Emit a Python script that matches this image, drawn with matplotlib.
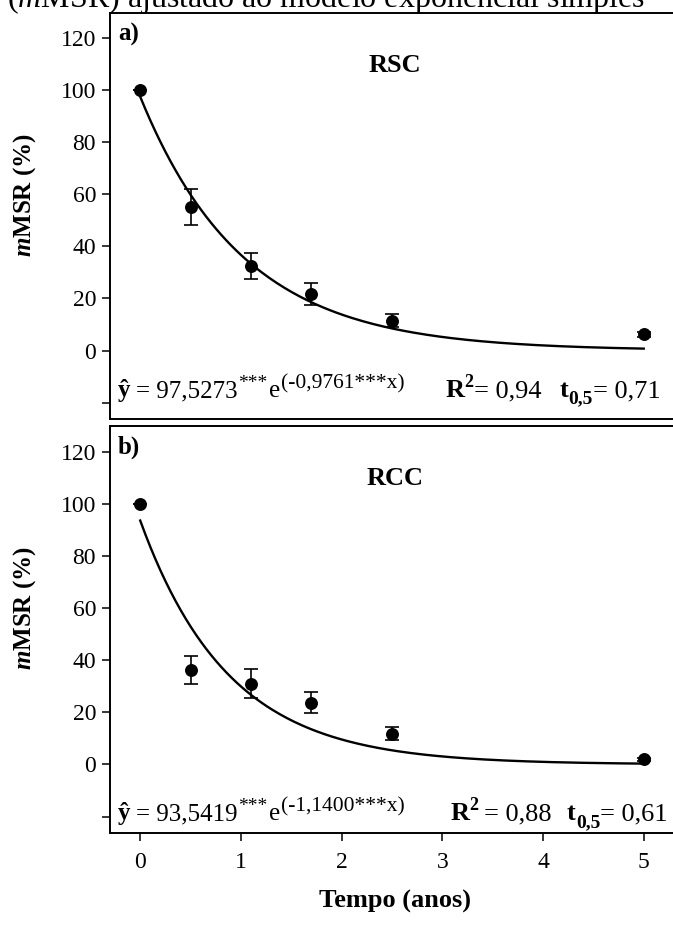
import numpy as np
import matplotlib
matplotlib.use("Agg")
import matplotlib.pyplot as plt

# fonts: Times-like serif everywhere, also inside mathtext
plt.rcParams["font.family"] = ["Liberation Serif", "DejaVu Serif"]
plt.rcParams["mathtext.fontset"] = "custom"
plt.rcParams["mathtext.rm"] = "Liberation Serif"
plt.rcParams["mathtext.it"] = "Liberation Serif:italic"
plt.rcParams["mathtext.bf"] = "Liberation Serif:bold"
plt.rcParams["mathtext.bfit"] = "Liberation Serif:bold:italic"

# data
tempo = [0, 0.5, 1.1, 1.7, 2.5, 5]
rsc_mean = [100, 55.1, 32.4, 21.8, 11.5, 6.2]
rsc_err = [0.0, 6.8, 5.0, 4.3, 2.5, 1.0]
rcc_mean = [100, 36.2, 31.0, 23.7, 11.8, 2.0]
rcc_err = [0.0, 5.5, 5.6, 4.0, 2.4, 0.5]

# fitted model y = a * exp(b * x), as printed on the chart
rsc_a, rsc_b = 97.5273, -0.9761
rcc_a, rcc_b = 93.5419, -1.1400

yticks = [0, 20, 40, 60, 80, 100, 120]
xticks = [0, 1, 2, 3, 4, 5]

F = 18  # main size of the equation line


def chain_text(ax, x, y, pieces):
    """
    write pieces one after another on a common baseline
    piece = (text, size, weight, rise_pt, gap_pt)
    """
    txt, size, weight, rise, gap = pieces[0]
    prev = ax.text(x, y, txt, fontsize=size, fontweight=weight,
                   transform=ax.get_yaxis_transform(),
                   ha="left", va="baseline")
    for txt, size, weight, rise, gap in pieces[1:]:
        prev = ax.annotate(txt, xy=(1, y), xycoords=(prev, ax.transData),
                           xytext=(gap, rise), textcoords="offset points",
                           fontsize=size, fontweight=weight,
                           ha="left", va="baseline", annotation_clip=False)
    return prev


def draw_panel(ax, mean, err, a, b, letter, name, eq, stats, eq_y, stats_x):
    xs = np.linspace(0, 5, 200)
    ax.plot(xs, a * np.exp(b * xs), color="black", linewidth=1.7, zorder=2)
    ax.errorbar(tempo, mean, yerr=err, fmt="o", color="black",
                markersize=8.3, elinewidth=1.2, capsize=5, capthick=1.2, zorder=3)

    ax.set_xlim(-0.3, 5.36)
    ax.set_ylim(-26.3, 129.8)
    ax.set_yticks(yticks + [-20])
    ax.set_yticklabels([str(t) for t in yticks] + [""])
    ax.tick_params(axis="y", direction="out", length=6, width=1.1,
                   labelsize=17, pad=4)
    for s in ax.spines.values():
        s.set_linewidth(1.4)

    ax.text(-0.22, 121.5, letter, fontsize=18, fontweight="bold",
            ha="left", va="center")
    ax.text(2.53, 109.5, name, fontsize=19, fontweight="bold",
            ha="center", va="center")
    chain_text(ax, 0.014, eq_y, eq)
    chain_text(ax, stats_x, eq_y, stats)


fig = plt.figure(figsize=(6.73, 9.27), dpi=100)
ax1 = fig.add_axes([110 / 673, 1 - 419 / 927, 570 / 673, 406.3 / 927])
ax2 = fig.add_axes([110 / 673, 1 - 833 / 927, 570 / 673, 407 / 927])

eq_top = [("ŷ", F, "bold", 0, 0), ("= 97,5273", F, "normal", 0, 4),
          ("***", 14, "normal", 7, 0.5), ("e", F, "normal", 0, 1),
          ("(-0,9761***x)", 15.5, "normal", 6.5, 0.3)]
stats_top = [("R", 19, "bold", 0, 0), ("2", 13, "bold", 7.5, -0.3),
             ("= 0,94", 19, "normal", 0, 0.3), ("t", 19, "bold", 0, 13),
             ("0,5", 14, "bold", -4.5, 0), ("= 0,71", 19, "normal", 0, 0)]
eq_bot = [("ŷ", F, "bold", 0, 0), ("= 93,5419", F, "normal", 0, 4),
          ("***", 14, "normal", 7, 0.5), ("e", F, "normal", 0, 1),
          ("(-1,1400***x)", 15.5, "normal", 6.5, 0.3)]
stats_bot = [("R", 19, "bold", 0, 0), ("2", 13, "bold", 7.5, -0.3),
             ("= 0,88", 19, "normal", 0, 4), ("t", 19, "bold", 0, 11),
             ("0,5", 14, "bold", -4.5, 0), ("= 0,61", 19, "normal", 0, 0)]

draw_panel(ax1, rsc_mean, rsc_err, rsc_a, rsc_b, "a)", "RSC",
           eq_top, stats_top, -18, (446 - 110) / 570)
draw_panel(ax2, rcc_mean, rcc_err, rcc_a, rcc_b, "b)", "RCC",
           eq_bot, stats_bot, -21.5, (451 - 110) / 570)

ax1.tick_params(axis="x", bottom=False, labelbottom=False)
ax2.set_xticks(xticks)
ax2.tick_params(axis="x", direction="out", length=6, width=1.1,
                labelsize=17, pad=8)
ax2.set_xlabel("Tempo (anos)", fontsize=19, fontweight="bold", labelpad=12)

# y labels, centred on the 0-120 range of each panel
fig.text(25 / 673, 1 - 195 / 927, r"$\mathbfit{m}$MSR (%)", rotation=90,
         fontsize=18, fontweight="bold", ha="center", va="center")
fig.text(25 / 673, 1 - 608 / 927, r"$\mathbfit{m}$MSR (%)", rotation=90,
         fontsize=18, fontweight="bold", ha="center", va="center")

# caption line cut off by the top edge of the image, as in the source
fig.text(645 / 673, 1 - 7 / 927,
         r"remanescente ($\mathit{m}$MSR) ajustado ao modelo exponencial simples",
         fontsize=23, ha="right", va="baseline")

fig.savefig("out.png", dpi=100)
